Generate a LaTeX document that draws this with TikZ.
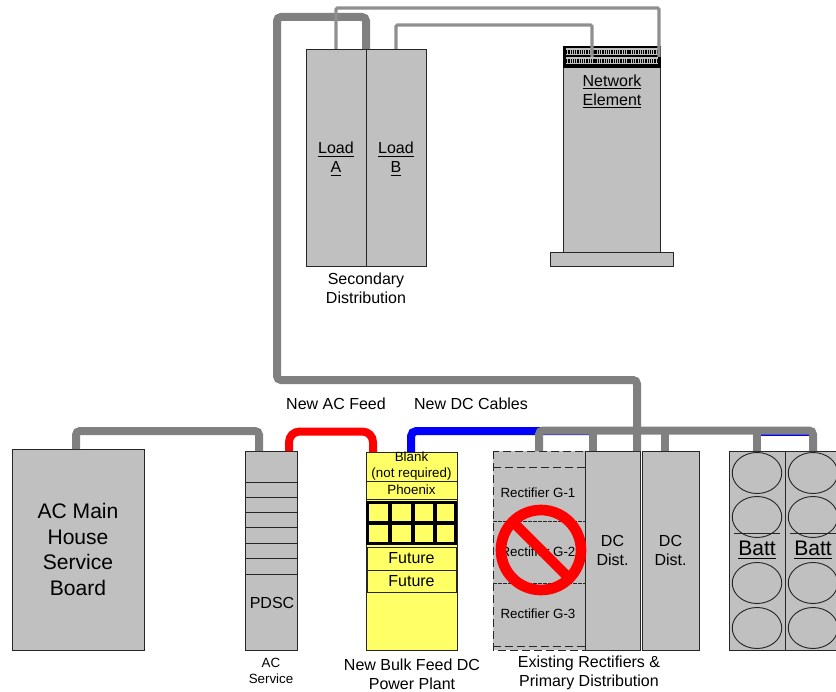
\documentclass[tikz,border=0pt]{standalone}
\usepackage{fontspec}
\setmainfont{Liberation Sans}
\definecolor{rackgray}{HTML}{C0C0C0}
\definecolor{plantyellow}{HTML}{FFFF66}
\definecolor{cablegray}{HTML}{808080}
\definecolor{signalgray}{HTML}{8F8F8F}
\tikzset{
    sized/.style 2 args={minimum width=#1*0.75pt, minimum height=#2*0.75pt},
    rack/.style={draw=black!85, line width=0.7pt, fill=rackgray, inner sep=0pt, outer sep=0pt, align=center, font=\fontsize{12}{14.25}\selectfont},
    plant/.style={rack, fill=plantyellow},
    label/.style={inner sep=0pt, align=center, font=\fontsize{12}{14.25}\selectfont},
    smalltxt/.style={inner sep=0pt, align=center, font=\fontsize{10}{12}\selectfont},
    cable/.style={draw=cablegray, line width=6pt, rounded corners=3pt},
    signal/.style={draw=signalgray, line width=2.3pt, rounded corners=1pt},
    acfeed/.style={draw=red, line width=6pt, rounded corners=8pt},
    dcfeed/.style={draw=blue, line width=6pt, rounded corners=4pt},
    cell/.style={draw=black, line width=2.3pt, fill=plantyellow, inner sep=0pt, outer sep=0pt},
    exist/.style={draw=black!85, line width=0.7pt, dash pattern=on 6pt off 3pt},
    cell ellipse/.style={draw=black!85, line width=0.7pt, ellipse, inner sep=0pt, minimum width=49.5*0.75pt, minimum height=41*0.75pt}
}
\usetikzlibrary{shapes.geometric}
\begin{document}
\begin{tikzpicture}[x=0.75pt, y=-0.75pt]
    \clip (0, 0) rectangle (836, 692);

    % ===== SECONDARY DISTRIBUTION (top) =====
    \node[rack, sized={60}{217}] (loada) at (336, 157.5) {};
    \node[rack, sized={60}{217}] (loadb) at (396, 157.5) {};
    \node[label] (loadatxt) at (336, 159) {\underline{Load}\\\underline{A}};
    \node[label] (loadbtxt) at (396, 159) {\underline{Load}\\\underline{B}};
    \node[label] (secondary) at (366, 288) {Secondary\\Distribution};

    % Network element with its connector panel
    \node[rack, sized={123}{14}] (nebase) at (611.5, 259) {};
    \node[rack, sized={97}{206}] (nebody) at (611.5, 149) {};
    \node[label] (netext) at (612, 91.5) {\underline{Network}\\\underline{Element}};
    \node[draw=black, fill=black, inner sep=0pt, outer sep=0pt, sized={97}{21}] (panel) at (611.5, 56.5) {};
    \foreach \rowy in {52, 61} {
        \fill[rackgray] (565.5, \rowy-3.5) rectangle (657.5, \rowy+3.5);
        \draw[black, line width=2.6pt, dash pattern=on 1pt off 0.7pt] (566, \rowy) -- (657, \rowy);
    }
    \coordinate (panelleft) at (592, 57);
    \coordinate (panelright) at (659, 57);

    % ===== AC SERVICE (bottom left) =====
    \node[rack, sized={132}{201}, font=\fontsize{15.8}{19.1}\selectfont] (acmain) at (78, 549.5) {AC Main\\House\\Service\\Board};
    \node[rack, sized={52}{199}] (pdsc) at (271, 550.5) {};
    \foreach \divy in {482, 497, 512, 527.5, 543, 558, 574} {
        \draw[black!85, line width=0.7pt] (245, \divy) -- (297, \divy);
    }
    \node[label] (pdsctxt) at (272, 603) {PDSC};
    \node[smalltxt] (acservice) at (271, 671) {AC\\Service};

    % ===== NEW BULK FEED PLANT =====
    \node[plant, sized={91}{198}] (plantbody) at (411.5, 551) {};
    \node[plant, sized={91}{29}, font=\fontsize{10}{12}\selectfont] (blank) at (411.5, 466.5) {Blank\\(not required)};
    \node[plant, sized={91}{18}, font=\fontsize{10}{12}\selectfont] (phoenix) at (411.5, 490) {Phoenix};
    % Rectifier cells, two rows of four
    \foreach \colx/\colw [count=\cnum] in {378.75/22.5, 401.5/23, 424/22, 445.25/20.5} {
        \node[cell, sized={\colw}{20.5}] (upper\cnum) at (\colx, 512.75) {};
        \node[cell, sized={\colw}{20.5}] (lower\cnum) at (\colx, 533.25) {};
    }
    \node[plant, sized={89}{23}] (future1) at (411.5, 558.5) {Future};
    \node[plant, sized={89}{22}] (future2) at (411.5, 581) {Future};
    \node[label] (plantlabel) at (412, 674) {New Bulk Feed DC\\Power Plant};

    % ===== EXISTING RECTIFIERS =====
    \node[rack, draw=none, sized={92}{199}] (rectbay) at (539, 550.5) {};
    \draw[exist] (rectbay.north west) rectangle (rectbay.south east);
    \draw[exist] (493, 467) -- (585, 467);
    \draw[exist, dash pattern=on 3pt off 0.75pt] (493, 521) -- (585, 521);
    \draw[exist, dash pattern=on 3pt off 0.75pt] (493, 583) -- (585, 583);
    \draw[exist] (493, 646) -- (585, 646);
    \node[smalltxt] (rectg1) at (538, 493) {Rectifier G-1};
    \node[smalltxt] (rectg2) at (538, 552) {Rectifier G-2};
    \node[smalltxt] (rectg3) at (538, 614) {Rectifier G-3};
    \node[rack, sized={55}{199}] (dist1) at (612.5, 550.5) {DC\\Dist.};
    \node[rack, sized={57}{199}] (dist2) at (670.5, 550.5) {DC\\Dist.};
    \node[label] (existlabel) at (589, 672.5) {Existing Rectifiers \&\\Primary Distribution};

    % Prohibition sign over the rectifiers
    \node[circle, draw=red, line width=8pt, inner sep=0pt, outer sep=0pt, minimum size=80*0.75pt] (nosign) at (541, 550) {};
    \draw[red, line width=7.5pt] (nosign.center) ++(-27, -27) -- ++(54, 54);

    % ===== BATTERIES =====
    \foreach \battx/\battname in {757/batta, 813/battb} {
        \node[rack, sized={56}{199}] (\battname) at (\battx, 550.5) {};
        \draw[black!85, line width=0.7pt] (\battx-23, 533) -- (\battx+23, 533);
        \foreach \celly in {473, 517, 583, 628} {
            \node[cell ellipse] at (\battx, \celly) {};
        }
        \node[label, font=\fontsize{15.8}{19}\selectfont] at (\battx, 550) {\underline{Batt}};
    }

    % ===== CABLES =====
    \node[label] (acfeedlabel) at (336, 404) {New AC Feed};
    \node[label] (dcfeedlabel) at (471, 404) {New DC Cables};

    % AC side
    \draw[cable] (76, 449) -- (76, 431) -- (259, 431) -- (259, 451);
    \draw[acfeed] (289, 451) -- (289, 431.5) -- (373, 431.5) -- (373, 452);

    % DC side, blue runs below the grey bus
    \coordinate (bluestart) at (411, 452);
    \coordinate (blueend) at (590, 431);
    \coordinate (bluebatt) at (757, 431.5);
    \coordinate (bluebattend) at (812, 431.5);
    \draw[dcfeed] (bluestart) |- (blueend);
    \draw[blue, line width=6pt] (bluebatt) -- (bluebattend);
    \coordinate (busleft) at (539, 430.5);
    \coordinate (busright) at (813, 430.5);
    \draw[cable] (539, 451) |- (busright) -- (813, 451);
    \foreach \dropx in {593, 665, 757} {
        \draw[cable, rounded corners=0pt] (\dropx, 430.5) -- (\dropx, 451);
    }

    % Main feed from the bus to the load bays
    \draw[cable] (637, 451) -- (637, 380) -- (277, 380) -- (277, 17) -- (366, 17) -- (loada.north east);

    % Signal leads to the network element
    \draw[signal] (loada.north) -- (336, 8) -- (659, 8) -- (panelright);
    \draw[signal] (loadb.north) -- (396, 25) -- (592, 25) -- (panelleft);
\end{tikzpicture}
\end{document}
